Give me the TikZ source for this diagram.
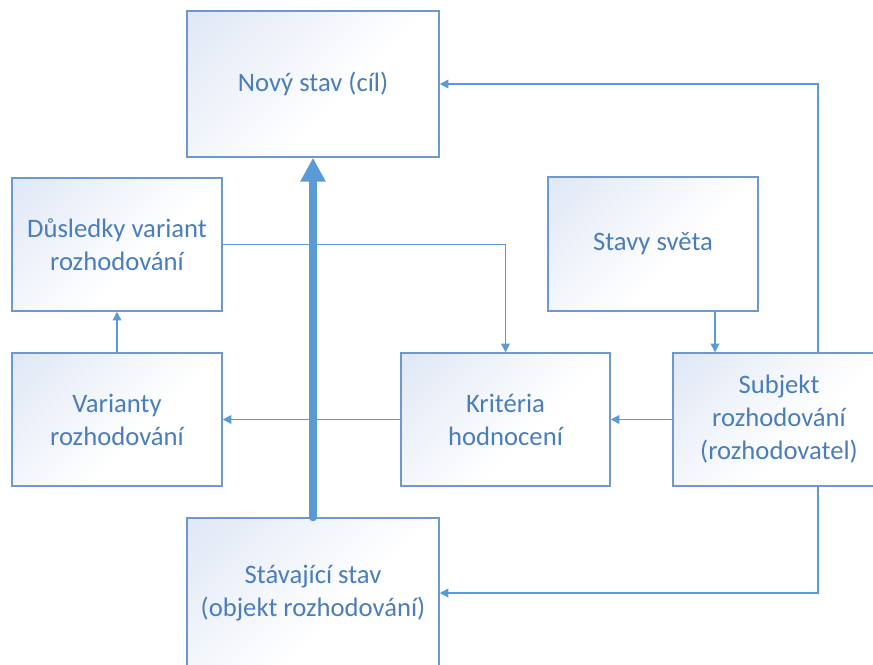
\documentclass[tikz,border=0pt]{standalone}
\usepackage{fontspec}
\setmainfont{Carlito}
\usetikzlibrary{arrows.meta}
\definecolor{edgeblue}{RGB}{108,153,207}
\definecolor{textblue}{RGB}{74,126,187}
\definecolor{linkblue}{RGB}{91,155,213}
\definecolor{shadeblue}{RGB}{226,233,246}
% soft fade from the upper left corner of each box
\pgfdeclarehorizontalshading{boxfade}{100bp}{color(0bp)=(shadeblue); color(18bp)=(shadeblue); color(58bp)=(white); color(100bp)=(white)}
\begin{document}
\begin{tikzpicture}[x=0.75pt,y=-0.75pt,
  box/.style={draw=edgeblue, line width=1.1pt, inner sep=0pt,
    shading=boxfade, shading angle=-45,
    text=textblue, align=center, font=\fontsize{20}{24.7}\selectfont},
  link/.style={draw=linkblue, line width=1.2pt,
    -{Triangle[width=6.5pt,length=6.5pt]}},
  mainlink/.style={draw=linkblue, line width=6pt, line cap=round,
    -{Triangle[width=18pt,length=18pt]}}]
\useasboundingbox (0,0) rectangle (873,664);
\clip (0,0) rectangle (873,664);
\fill[white] (0,0) rectangle (873,664);

% boxes
\node[box, minimum width=189pt, minimum height=109.5pt] (novy) at (313,84) {Nový stav (cíl)};
\node[box, minimum width=157.5pt, minimum height=99.75pt] (dus) at (117,244.5) {Důsledky variant\\rozhodování};
\node[box, minimum width=157.5pt, minimum height=99.75pt] (var) at (117,419.5) {Varianty\\rozhodování};
\node[box, minimum width=156.75pt, minimum height=99.75pt] (krit) at (505.5,419.5) {Kritéria\\hodnocení};
\node[box, minimum width=157.5pt, minimum height=100.5pt] (stavy) at (653,244) {Stavy světa};
\node[box, minimum width=159pt, minimum height=99.75pt] (subj) at (779,419.5) {Subjekt\\rozhodování\\(rozhodovatel)};
\node[box, minimum width=189pt, minimum height=112.5pt] (stav) at (313,593) {Stávající stav\\(objekt rozhodování)};

% bend points of the routed connectors
\coordinate (loopx) at (818,0);
\coordinate (dropx) at (715,0);

% connectors
\draw[link] (subj.north -| loopx) |- (novy.east);
\draw[link] (subj.south -| loopx) |- (stav.east);
\draw[link] (stavy.south -| dropx) -- (subj.north -| dropx);
\draw[link] (subj.west) -- (krit.east);
\draw[link] (krit.west) -- (var.east);
\draw[link] (var.north) -- (dus.south);
\draw[link] (dus.east) -| (krit.north);
\draw[mainlink] (stav.north) -- (novy.south);
\end{tikzpicture}
\end{document}
